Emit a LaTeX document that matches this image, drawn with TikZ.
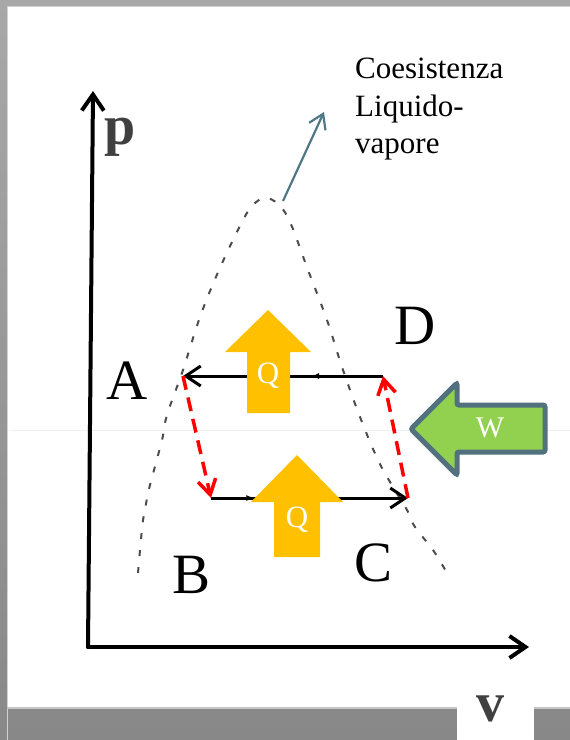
\documentclass[tikz,border=0pt]{standalone}
\usepackage{fontspec}
\setmainfont{Liberation Serif}
\usetikzlibrary{arrows.meta,decorations.markings}
\definecolor{qorange}{HTML}{FFC000}
\definecolor{wgreen}{HTML}{92D050}
\definecolor{wborder}{HTML}{52717F}
\definecolor{arrteal}{HTML}{4F7785}
\definecolor{plabel}{HTML}{404040}
\tikzset{
  axisline/.style={line width=4pt, line cap=round, -{Straight Barb[length=16pt,width=22pt]}},
  cycline/.style={line width=3pt, -{Straight Barb[length=15pt,width=20pt]}},
  reddash/.style={red, line width=3.5pt, dash pattern=on 14pt off 8pt, -{Straight Barb[length=15pt,width=18pt]}},
  dome/.style={black!70, line width=2pt, dash pattern=on 6pt off 11pt},
  pointlbl/.style={font=\fontsize{57}{60}\selectfont, inner sep=0pt},
  qlbl/.style={white, font=\fontsize{31}{33}\selectfont, inner sep=0pt},
  axlbl/.style={plabel, font=\fontsize{56}{58}\selectfont\bfseries, inner sep=0pt},
  heatarrow/.style={fill=qorange},
  workarrow/.style={fill=wgreen, draw=wborder, line width=5pt, rounded corners=2pt},
  midmark/.style={decoration={markings, mark=at position #1 with {\arrow{Latex[length=8pt,width=6pt]}}}, postaction={decorate}}
}
\begin{document}
\begin{tikzpicture}[x=1pt,y=-1pt]
\useasboundingbox (0,0) rectangle (570,740);
% background and panel
\shade[top color={rgb,255:red,168;green,168;blue,168}, bottom color={rgb,255:red,136;green,136;blue,136}] (0,0) rectangle (570,740);
\fill[white] (7,6) rectangle (572,708);
\draw[gray!35, line width=1.5pt] (7.5,740) -- (7.5,6.5) -- (572,6.5);
\draw[gray!45, line width=2pt] (7,708) -- (572,708);
\fill[white] (457,706) rectangle (534,740);
\draw[gray!12, line width=0.8pt] (9,430) -- (570,430);

% coexistence dome
\draw[dome] plot[smooth, tension=0.6] coordinates {(138,573) (143,520) (148,493) (162,440) (167,415) (183,370) (200,317) (219,270) (242,222) (253,205) (265,198) (278,204) (290,222) (308,270) (327,320) (342,367) (360,417) (378,460) (393,487) (407,510) (415,527) (433,550) (447,573)};

% axes
\coordinate (O) at (88,647);
\coordinate (Ytop) at (93,91);
\coordinate (Xend) at (529,647);
\draw[axisline] (O) -- (Ytop);
\draw[axisline] (O) -- (Xend);
\node[axlbl] (p) at (120,137) {p};
\node[axlbl] (v) at (490,709) {v};

% teal arrow and text
\coordinate (peak) at (283,201);
\coordinate (tealtip) at (324,112);
\draw[arrteal, line width=2.2pt, -{Straight Barb[length=14pt,width=18pt]}] (peak) -- (tealtip);
\node[anchor=north west, align=left, inner sep=0pt, font=\fontsize{31}{37.5}\selectfont] (coex) at (355,58) {Coesistenza\\Liquido-\\vapore};

% cycle corners
\coordinate (A) at (183,376);
\coordinate (D) at (383,376);
\coordinate (B) at (211,498);
\coordinate (C) at (408,498);
\draw[cycline, midmark=0.36] (D) -- (A);
\draw[cycline, midmark=0.22] (B) -- (C);
\draw[reddash] (A) -- (B);
\draw[reddash] (C) -- (D);

% heat arrows
\fill[heatarrow] (268,310) -- (311,352) -- (290,352) -- (290,413) -- (247,413) -- (247,352) -- (225,352) -- cycle;
\node[qlbl] (q1) at (268,376) {Q};
\fill[heatarrow] (297,455) -- (343,502) -- (320,502) -- (320,557) -- (274,557) -- (274,502) -- (251,502) -- cycle;
\node[qlbl] (q2) at (297,520) {Q};

% work arrow
\draw[workarrow] (411,429) -- (457,383) -- (457,405) -- (545,405) -- (545,452) -- (457,452) -- (457,475) -- cycle;
\node[qlbl, font=\fontsize{30}{32}\selectfont] (w) at (490,428) {W};

% point labels
\node[pointlbl] (lA) at (127,381) {A};
\node[pointlbl] (lD) at (415,326) {D};
\node[pointlbl] (lB) at (192,575) {B};
\node[pointlbl] (lC) at (374,563) {C};
\end{tikzpicture}
\end{document}
